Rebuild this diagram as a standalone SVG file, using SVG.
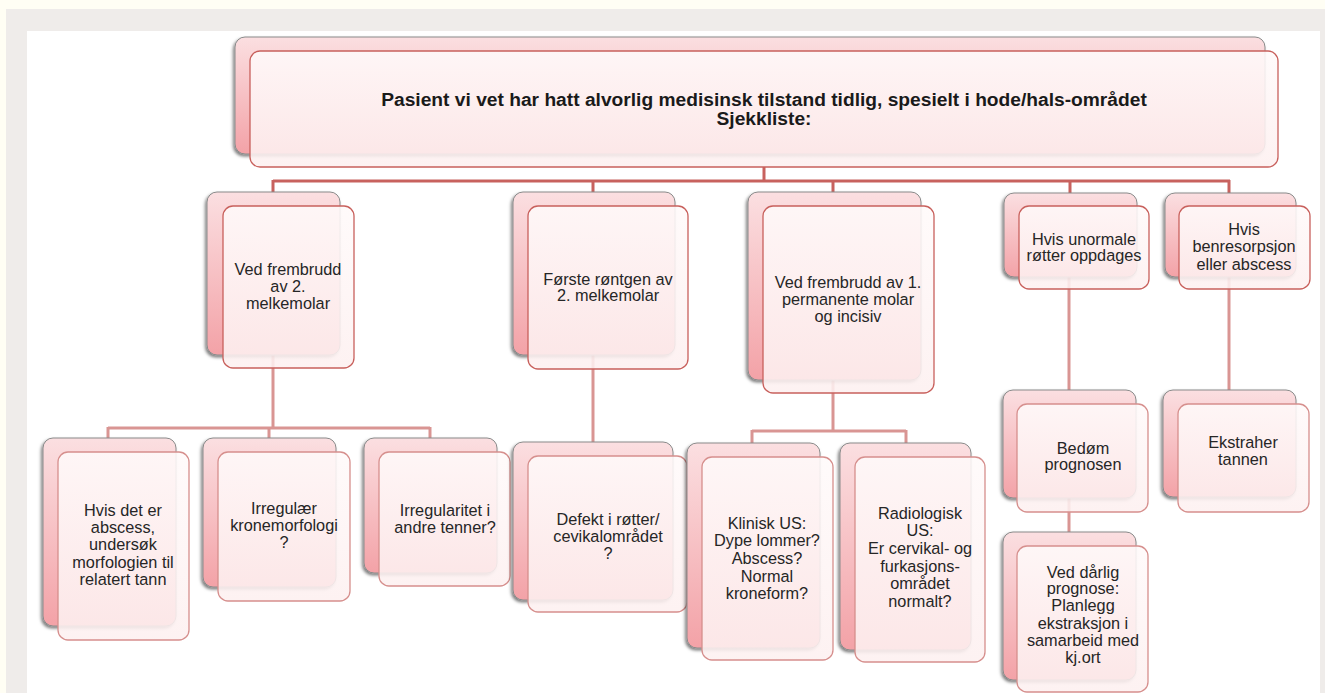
<svg xmlns="http://www.w3.org/2000/svg" width="1325" height="693" viewBox="0 0 1325 693">
<defs>
<linearGradient id="pink" x1="0" y1="0" x2="0" y2="1">
<stop offset="0" stop-color="#fbdfe1"/>
<stop offset="1" stop-color="#f3a2a7"/>
</linearGradient>
<linearGradient id="front" x1="0" y1="0" x2="0" y2="1">
<stop offset="0" stop-color="#fffafa"/>
<stop offset="1" stop-color="#fdf0f0"/>
</linearGradient>
<filter id="sh" x="-20%" y="-20%" width="140%" height="140%">
<feDropShadow dx="-1.5" dy="2" stdDeviation="1.8" flood-color="#000" flood-opacity="0.5"/>
</filter>
</defs>
<style>
.back{fill:url(#pink);stroke:#8a8a8a;stroke-width:1;filter:url(#sh)}
.front{fill:url(#front);fill-opacity:0.88;stroke:#c8605c;stroke-width:1.3}
.front2{fill:url(#front);fill-opacity:0.88;stroke:#d68f8d;stroke-width:1.3}
.t{font-family:"Liberation Sans",Arial,sans-serif;font-size:16.3px;fill:#262626;text-anchor:middle}
.tb{font-family:"Liberation Sans",Arial,sans-serif;font-size:19.2px;font-weight:bold;fill:#1a1a1a;text-anchor:middle}
.c1{fill:none;stroke:#c8625e;stroke-width:3}
.c2{fill:none;stroke:#d99593;stroke-width:3}
</style>
<rect x="0" y="0" width="1325" height="693" fill="#fffef4"/>
<rect x="6" y="9" width="1319" height="684" fill="#efecea"/>
<rect x="27" y="31" width="1293" height="662" fill="#ffffff"/>

<g id="connectors">
<path class="c1" d="M764 167 V181 M273 181 H1230 M273 180 V194 M593 180 V194 M833 180 V194 M1070 180 V194 M1229 180 V194"/>
<path class="c2" d="M273 355 V428 M108 428 H430 M108 427 V440 M269 427 V440 M430 427 V440"/>
<path class="c2" d="M593 355 V443"/>
<path class="c2" d="M833 380 V431 M752 431 H906 M752 430 V444 M906 430 V444"/>
<path class="c2" d="M1069 277 V391 M1229 277 V391 M1069 498 V534"/>
</g>

<g id="top">
<rect class="back" x="235" y="37" width="1030" height="117" rx="10"/>
<rect class="front" x="250" y="51" width="1028" height="116" rx="10"/>
<text class="tb" x="764" y="106">Pasient vi vet har hatt alvorlig medisinsk tilstand tidlig, spesielt i hode/hals-området</text>
<text class="tb" x="764" y="125">Sjekkliste:</text>
</g>

<g id="nodeA">
<rect class="back" x="207" y="192" width="133" height="163" rx="10"/>
<rect class="front" x="223" y="206" width="131" height="162" rx="10"/>
<text class="t" x="288" y="275">Ved frembrudd</text>
<text class="t" x="288" y="292">av 2.</text>
<text class="t" x="288" y="309">melkemolar</text>
</g>

<g id="nodeB">
<rect class="back" x="513" y="192" width="162" height="163" rx="10"/>
<rect class="front" x="528" y="206" width="160" height="163" rx="10"/>
<text class="t" x="608" y="285">Første røntgen av</text>
<text class="t" x="608" y="301">2. melkemolar</text>
</g>

<g id="nodeC">
<rect class="back" x="748" y="192" width="173" height="188" rx="10"/>
<rect class="front" x="763" y="206" width="171" height="187" rx="10"/>
<text class="t" x="848" y="288">Ved frembrudd av 1.</text>
<text class="t" x="848" y="305">permanente molar</text>
<text class="t" x="848" y="322">og incisiv</text>
</g>

<g id="nodeD">
<rect class="back" x="1004" y="193" width="133" height="84" rx="10"/>
<rect class="front" x="1019" y="206" width="130" height="83" rx="10"/>
<text class="t" x="1084" y="245">Hvis unormale</text>
<text class="t" x="1084" y="261">røtter oppdages</text>
</g>

<g id="nodeE">
<rect class="back" x="1165" y="193" width="131" height="84" rx="10"/>
<rect class="front" x="1179" y="206" width="131" height="83" rx="10"/>
<text class="t" x="1244" y="235">Hvis</text>
<text class="t" x="1244" y="252">benresorpsjon</text>
<text class="t" x="1244" y="270">eller abscess</text>
</g>

<g id="nodeA1">
<rect class="back" x="43" y="438" width="133" height="188" rx="10"/>
<rect class="front2" x="58" y="452" width="131" height="188" rx="10"/>
<text class="t" x="123" y="516">Hvis det er</text>
<text class="t" x="123" y="533">abscess,</text>
<text class="t" x="123" y="550">undersøk</text>
<text class="t" x="123" y="568">morfologien til</text>
<text class="t" x="123" y="585">relatert tann</text>
</g>

<g id="nodeA2">
<rect class="back" x="203" y="438" width="133" height="149" rx="10"/>
<rect class="front2" x="218" y="452" width="132" height="149" rx="10"/>
<text class="t" x="284" y="514">Irregulær</text>
<text class="t" x="284" y="531">kronemorfologi</text>
<text class="t" x="284" y="548">?</text>
</g>

<g id="nodeA3">
<rect class="back" x="364" y="438" width="133" height="135" rx="10"/>
<rect class="front2" x="379" y="452" width="131" height="134" rx="10"/>
<text class="t" x="445" y="516">Irregularitet i</text>
<text class="t" x="445" y="533">andre tenner?</text>
</g>

<g id="nodeB1">
<rect class="back" x="513" y="442" width="160" height="158" rx="10"/>
<rect class="front2" x="528" y="456" width="159" height="156" rx="10"/>
<text class="t" x="608" y="525">Defekt i røtter/</text>
<text class="t" x="608" y="542">cevikalområdet</text>
<text class="t" x="608" y="559">?</text>
</g>

<g id="nodeC1">
<rect class="back" x="687" y="443" width="133" height="205" rx="10"/>
<rect class="front2" x="702" y="457" width="131" height="203" rx="10"/>
<text class="t" x="767" y="529">Klinisk US:</text>
<text class="t" x="767" y="546">Dype lommer?</text>
<text class="t" x="767" y="564">Abscess?</text>
<text class="t" x="767" y="582">Normal</text>
<text class="t" x="767" y="599">kroneform?</text>
</g>

<g id="nodeC2">
<rect class="back" x="840" y="443" width="131" height="207" rx="10"/>
<rect class="front2" x="855" y="457" width="130" height="205" rx="10"/>
<text class="t" x="920" y="519">Radiologisk</text>
<text class="t" x="920" y="536">US:</text>
<text class="t" x="920" y="554">Er cervikal- og</text>
<text class="t" x="920" y="572">furkasjons-</text>
<text class="t" x="920" y="589">området</text>
<text class="t" x="920" y="607">normalt?</text>
</g>

<g id="nodeD1">
<rect class="back" x="1003" y="390" width="133" height="108" rx="10"/>
<rect class="front2" x="1017" y="404" width="131" height="108" rx="10"/>
<text class="t" x="1083" y="454">Bedøm</text>
<text class="t" x="1083" y="470">prognosen</text>
</g>

<g id="nodeE1">
<rect class="back" x="1163" y="390" width="133" height="107" rx="10"/>
<rect class="front2" x="1178" y="404" width="131" height="108" rx="10"/>
<text class="t" x="1243" y="448">Ekstraher</text>
<text class="t" x="1243" y="465">tannen</text>
</g>

<g id="nodeD2">
<rect class="back" x="1003" y="532" width="133" height="148" rx="10"/>
<rect class="front2" x="1017" y="546" width="131" height="146" rx="10"/>
<text class="t" x="1083" y="578">Ved dårlig</text>
<text class="t" x="1083" y="594">prognose:</text>
<text class="t" x="1083" y="611">Planlegg</text>
<text class="t" x="1083" y="629">ekstraksjon i</text>
<text class="t" x="1083" y="646">samarbeid med</text>
<text class="t" x="1083" y="663">kj.ort</text>
</g>
</svg>
